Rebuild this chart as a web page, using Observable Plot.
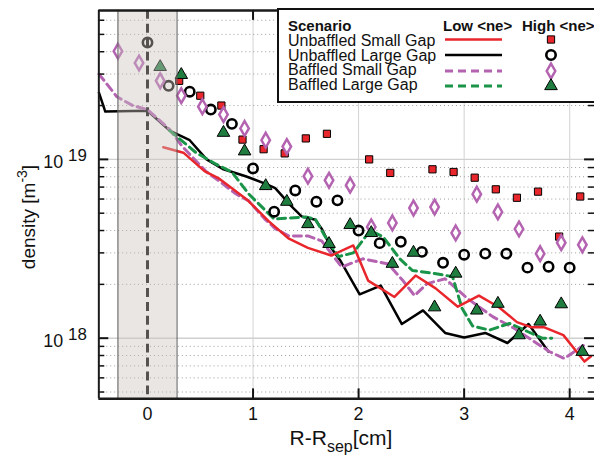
<!DOCTYPE html>
<html><head><meta charset="utf-8">
<script src="https://cdn.jsdelivr.net/npm/d3@7"></script>
<script src="https://cdn.jsdelivr.net/npm/@observablehq/plot@0.6"></script>
<style>
html,body{margin:0;padding:0;overflow:hidden;background:#fff;}
#wrap{position:relative;width:594px;height:466px;overflow:hidden;font-family:"Liberation Sans",Arial,Helvetica,sans-serif;}
#wrap svg{position:absolute;left:0;top:0;}
</style></head><body><div id="wrap"></div>
<script>
// ---------- data ----------
const scenarios = ["Unbaffled Small Gap","Unbaffled Large Gap","Baffled Small Gap","Baffled Large Gap"];
const legendHeaders = ["Scenario","Low <ne>","High <ne>"];
const xTicks = [0,1,2,3,4];
const yMajor = [1e18, 1e19];
const yMajorLabels = [["10","18"],["10","19"]];
const separatrixBand = [-0.28, 0.28];

// Low <ne> profiles (lines): [R-Rsep (cm), density (m^-3)]
const lowUnbaffledSmall = [[0.15,1.17e19],[0.34,1.09e19],[0.54,8.6e18],[0.68,7.8e18],[0.95,5.9e18],[1.15,4.5e18],[1.34,3.6e18],[1.52,3.2e18],[1.74,2.9e18],[1.95,3.3e18],[2.09,2.1e18],[2.34,1.7e18],[2.54,2.24e18],[2.73,1.9e18],[2.94,1.5e18],[3.14,1.73e18],[3.33,1.49e18],[3.50,1.23e18],[3.64,1.15e18],[3.76,1.15e18],[3.94,1.04e18],[4.14,7.4e17],[4.2,7.9e17]];
const lowUnbaffledLarge = [[-0.46,2.36e19],[-0.40,1.85e19],[0,1.87e19],[0.21,1.45e19],[0.40,1.28e19],[0.56,1.0e19],[0.72,8.8e18],[0.93,8.05e18],[1.12,7.3e18],[1.21,6.9e18],[1.36,5.5e18],[1.46,4.8e18],[1.59,4.6e18],[1.65,4.1e18],[1.74,3.2e18],[1.83,2.7e18],[2.01,1.76e18],[2.21,1.97e18],[2.41,1.2e18],[2.61,1.43e18],[2.82,1.07e18],[3.0,1.01e18],[3.2,1.07e18],[3.41,9.4e17],[3.61,1.2e18],[3.80,8.4e17]];
const lowBaffledSmall = [[-0.46,3.0e19],[-0.29,2.24e19],[-0.14,2.0e19],[0,1.9e19],[0.21,1.47e19],[0.33,1.18e19],[0.56,8.5e18],[0.68,7.55e18],[0.84,6.4e18],[0.96,5.85e18],[1.11,4.65e18],[1.21,4.1e18],[1.34,3.73e18],[1.52,3.73e18],[1.65,3.5e18],[1.84,2.5e18],[2.04,2.78e18],[2.28,2.6e18],[2.42,2.1e18],[2.53,1.73e18],[2.65,2.02e18],[2.82,2.15e18],[3.03,1.67e18],[3.27,1.32e18],[3.47,1.14e18],[3.66,9.6e17],[3.81,8.4e17],[3.95,7.7e17],[4.13,9.1e17]];
const lowBaffledLarge = [[0.21,1.45e19],[0.46,1.09e19],[0.65,9.4e18],[0.80,8.5e18],[0.96,6.4e18],[1.10,5.3e18],[1.20,4.64e18],[1.50,4.76e18],[1.59,4.64e18],[1.68,3.73e18],[1.81,2.86e18],[1.95,3.0e18],[2.11,4.0e18],[2.23,3.7e18],[2.39,2.78e18],[2.51,2.39e18],[2.72,2.3e18],[2.89,2.21e18],[2.98,1.47e18],[3.08,1.17e18],[3.24,1.11e18],[3.43,1.21e18],[3.60,1.09e18],[3.74,1.0e18],[3.83,1.0e18]];

// High <ne> profiles (markers)
const highUnbaffledSmall = [[0.3,2.75e19],[0.5,2.27e19],[0.7,2.0e19],[0.9,1.29e19],[1.1,1.14e19],[1.3,1.08e19],[1.5,1.31e19],[1.7,1.39e19],[2.1,1.0e19],[2.3,8.4e18],[2.7,8.8e18],[2.9,8.5e18],[3.1,7.9e18],[3.3,6.8e18],[3.5,6.1e18],[3.7,6.6e18],[3.9,3.7e18],[4.1,6.2e18]];
const highUnbaffledLarge = [[0,4.5e19],[0.2,2.58e19],[0.4,2.39e19],[0.6,1.9e19],[0.8,1.58e19],[1.0,8.9e18],[1.2,5.1e18],[1.4,6.7e18],[1.6,5.8e18],[1.8,5.9e18],[2.0,4.0e18],[2.2,3.4e18],[2.4,3.46e18],[2.6,3.04e18],[2.8,2.64e18],[3.0,2.93e18],[3.2,2.97e18],[3.4,2.97e18],[3.6,2.48e18],[3.8,2.51e18],[4.0,2.48e18]];
const highBaffledSmall = [[-0.28,4.03e19],[-0.08,3.46e19],[0.12,2.75e19],[0.32,2.27e19],[0.52,1.97e19],[0.72,1.78e19],[0.92,1.49e19],[1.12,1.28e19],[1.32,1.18e19],[1.52,8.05e18],[1.72,7.64e18],[1.92,7.17e18],[2.12,4.19e18],[2.32,4.41e18],[2.52,5.34e18],[2.72,5.41e18],[2.92,3.88e18],[3.12,6.39e18],[3.32,5.08e18],[3.52,4.08e18],[3.72,2.97e18],[3.92,3.42e18],[4.12,3.33e18]];
const highBaffledLarge = [[0.12,3.29e19],[0.32,2.97e19],[0.72,1.41e19],[0.92,1.11e19],[1.12,7.1e18],[1.32,5.8e18],[1.52,4.35e18],[1.72,3.37e18],[1.92,4.3e18],[2.12,3.88e18],[2.32,2.61e18],[2.52,3.01e18],[2.72,1.49e18],[2.92,2.3e18],[3.12,1.43e18],[3.32,1.56e18],[3.52,1.04e18],[3.72,1.24e18],[3.92,1.55e18],[4.12,8.4e17]];

// ---------- styling / layout ----------
const RED = "#e8262b", PURPLE = "#b463b1", GREEN = "#1a9448", TRI = "#1e7d3f";
const FONT = "'Liberation Sans', Arial, Helvetica, sans-serif";
const W = 598, H = 466, mL = 99, mR = 0, mT = 10, mB = 65;
const plotW = W - mL - mR, plotH = H - mT - mB;
const xDomain = [-0.461, 4.235];
const yDomain = [Math.pow(10, 17.661), Math.pow(10, 19.833)];
const yMinor = [];
for (const e of [17,18,19]) for (let m = 2; m <= 9; m++) { const v = m * Math.pow(10, e); if (v > yDomain[0] && v < yDomain[1]) yMinor.push(v); }
const X = d => d[0], Y = d => d[1];
const lineStyles = [
  {stroke: RED, strokeWidth: 2.5},
  {stroke: "#000", strokeWidth: 2.5},
  {stroke: PURPLE, strokeWidth: 3, strokeDasharray: "8,5"},
  {stroke: GREEN, strokeWidth: 3, strokeDasharray: "8,5"}
];
const dotStyles = [
  {symbol: "square", r: 4.1, fill: RED, stroke: "#000", strokeWidth: 1},
  {symbol: "circle", r: 4.7, fill: "none", stroke: "#000", strokeWidth: 2.6},
  {symbol: "diamond", r: 4.5, fill: "white", stroke: PURPLE, strokeWidth: 2.5},
  {symbol: "triangle", r: 4.7, fill: TRI, stroke: "#000", strokeWidth: 1}
];

const chart = Plot.plot({
  width: W, height: H, marginLeft: mL, marginRight: mR, marginTop: mT, marginBottom: mB,
  x: {domain: xDomain, axis: null},
  y: {type: "log", domain: yDomain, axis: null},
  style: {fontFamily: FONT, background: "white", overflow: "visible"},
  marks: [
    Plot.ruleX(xTicks.slice(1), {stroke: "#d2d2d2", strokeWidth: 1}),
    Plot.ruleY(yMinor, {stroke: "#9c9c9c", strokeWidth: 1, strokeDasharray: "1,3"}),
    Plot.ruleY(yMajor, {stroke: "#d0d0d0", strokeWidth: 1.5}),
    Plot.ruleX([0], {stroke: "#000", strokeWidth: 3, strokeDasharray: "9,5"}),
    Plot.line(lowUnbaffledLarge, {x: X, y: Y, ...lineStyles[1]}),
    Plot.line(lowBaffledSmall, {x: X, y: Y, ...lineStyles[2]}),
    Plot.line(lowBaffledLarge, {x: X, y: Y, ...lineStyles[3]}),
    Plot.line(lowUnbaffledSmall, {x: X, y: Y, ...lineStyles[0]}),
    Plot.dot(highUnbaffledSmall, {x: X, y: Y, ...dotStyles[0]}),
    Plot.dot(highUnbaffledLarge, {x: X, y: Y, ...dotStyles[1]}),
    Plot.dot(highBaffledSmall, {x: X, y: Y, ...dotStyles[2]}),
    Plot.dot(highBaffledLarge, {x: X, y: Y, ...dotStyles[3]}),
    Plot.rect([separatrixBand], {x1: d => d[0], x2: d => d[1], y1: () => yDomain[0], y2: () => yDomain[1], fill: "rgb(202,196,190)", fillOpacity: 0.42}),
    Plot.ruleX(separatrixBand, {stroke: "#5a5a5a", strokeWidth: 1}),
    // inward ticks
    Plot.tickY(yMajor, {y: d => d, stroke: "#111", strokeWidth: 2, insetRight: plotW - 10}),
    Plot.tickY(yMinor, {y: d => d, stroke: "#111", strokeWidth: 1.5, insetRight: plotW - 6}),
    Plot.tickY(yMajor, {y: d => d, stroke: "#111", strokeWidth: 2, insetLeft: plotW - 10}),
    Plot.tickY(yMinor, {y: d => d, stroke: "#111", strokeWidth: 1.5, insetLeft: plotW - 6}),
    Plot.tickX(xTicks.slice(1), {x: d => d, stroke: "#111", strokeWidth: 2, insetTop: plotH - 10}),
    Plot.tickX(xTicks.slice(1), {x: d => d, stroke: "#111", strokeWidth: 2, insetBottom: plotH - 10}),
    // frame
    Plot.ruleX([xDomain[0]], {stroke: "#1a1a1a", strokeWidth: 2}),
    Plot.ruleY(yDomain, {stroke: "#1a1a1a", strokeWidth: 2.5}),
    // tick labels
    Plot.text(xTicks, {x: d => d, frameAnchor: "bottom", dy: 21, text: d => String(d), fontSize: 18, fill: "#111"}),
    Plot.text(yMajor, {y: d => d, frameAnchor: "left", dx: -36, dy: 3, textAnchor: "end", text: (d, i) => yMajorLabels[i][0], fontSize: 18, fill: "#111"}),
    Plot.text(yMajor, {y: d => d, frameAnchor: "left", dx: -31, dy: -4, textAnchor: "start", text: (d, i) => yMajorLabels[i][1], fontSize: 17, fill: "#111"})
  ]
});
document.getElementById("wrap").appendChild(chart);

// ---------- overlay: axis titles and legend ----------
const ov = d3.select("#wrap").append("svg").attr("width", 594).attr("height", 466)
  .style("font-family", FONT).style("pointer-events", "none");

const yl = ov.append("text").attr("transform", "translate(35,217) rotate(-90)")
  .attr("text-anchor", "middle").attr("font-size", 19).attr("fill", "#111");
yl.append("tspan").text("density [m");
yl.append("tspan").attr("dy", -8).attr("font-size", 14).text("-3");
yl.append("tspan").attr("dy", 8).text("]");

const xl = ov.append("text").attr("x", 341).attr("y", 445)
  .attr("text-anchor", "middle").attr("font-size", 21).attr("fill", "#111");
xl.append("tspan").text("R-R");
xl.append("tspan").attr("dy", 7).attr("font-size", 16).text("sep");
xl.append("tspan").attr("dy", -7).text("[cm]");

const lg = ov.append("g");
lg.append("rect").attr("x", 278).attr("y", 9).attr("width", 330).attr("height", 93)
  .attr("fill", "#fff").attr("stroke", "#111").attr("stroke-width", 2);
const hdrX = [288, 443, 522];
legendHeaders.forEach((t, i) => lg.append("text").attr("x", hdrX[i]).attr("y", 31)
  .attr("font-size", 15).attr("font-weight", "bold").attr("fill", "#111").text(t));
const rowY = [46, 60.5, 75, 90];
const sampY = [39.5, 55, 71, 86];
const symMap = {square: d3.symbolSquare, circle: d3.symbolCircle, diamond: d3.symbolDiamond, triangle: d3.symbolTriangle};
scenarios.forEach((s, i) => {
  lg.append("text").attr("x", 288).attr("y", rowY[i]).attr("font-size", 16).attr("fill", "#111").text(s);
  const ls = lineStyles[i];
  lg.append("line").attr("x1", 445).attr("x2", 502).attr("y1", sampY[i]).attr("y2", sampY[i])
    .attr("stroke", ls.stroke).attr("stroke-width", ls.strokeWidth).attr("stroke-dasharray", ls.strokeDasharray || null);
  const ds = dotStyles[i];
  lg.append("path").attr("transform", `translate(551,${sampY[i]})`)
    .attr("d", d3.symbol(symMap[ds.symbol], Math.PI * ds.r * ds.r)())
    .attr("fill", ds.fill).attr("stroke", ds.stroke).attr("stroke-width", ds.strokeWidth);
});
</script></body></html>
